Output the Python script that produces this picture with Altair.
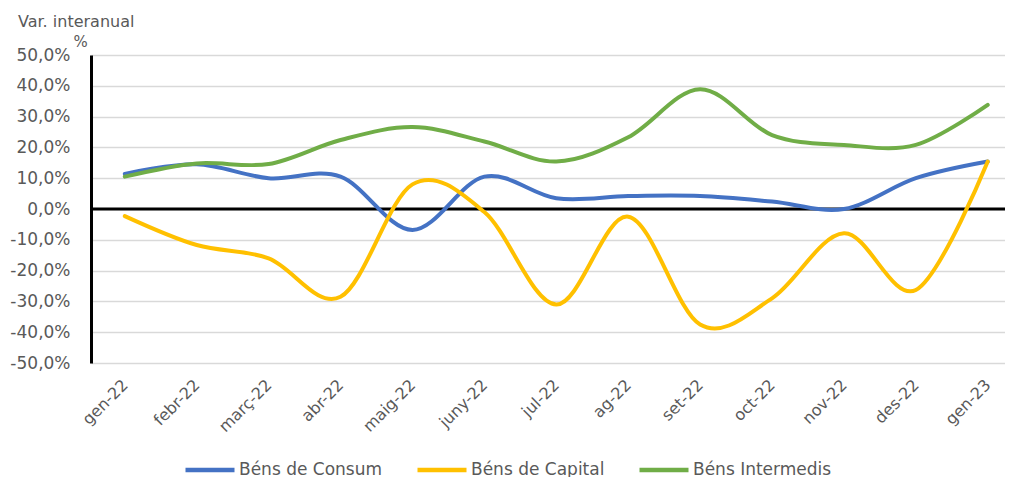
import altair as alt
import pandas as pd

months = ["gen-22", "febr-22", "març-22", "abr-22", "maig-22", "juny-22", "jul-22",
          "ag-22", "set-22", "oct-22", "nov-22", "des-22", "gen-23"]
consum = [11.4, 14.5, 10.0, 10.5, -6.8, 10.5, 3.5, 4.2, 4.2, 2.4, 0.0, 10.0, 15.4]
capital = [-2.3, -11.7, -16.0, -28.5, 8.0, -1.0, -31.0, -2.5, -37.5, -29.0, -7.9, -26.3, 15.4]
intermedis = [10.5, 14.8, 14.6, 22.4, 26.6, 21.9, 15.4, 23.3, 38.9, 24.0, 20.8, 20.8, 33.8]
series_names = ["Béns de Consum", "Béns de Capital", "Béns Intermedis"]
series_colors = ["#4472C4", "#FFC000", "#70AD47"]

rows = []
for name, vals in zip(series_names, [consum, capital, intermedis]):
    for i, (m, v) in enumerate(zip(months, vals)):
        rows.append({"idx": i, "mes": m, "serie": name, "valor": v})
df = pd.DataFrame(rows)

FONT = "DejaVu Sans"
GRAY = "#595959"
label_array = "[" + ",".join('"' + m + '"' for m in months) + "]"

x_enc = alt.X(
    "idx:Q",
    scale=alt.Scale(domain=[-0.47, 12.24], nice=False, zero=False),
    axis=alt.Axis(
        values=list(range(len(months))),
        labelExpr=label_array + "[datum.value]",
        labelAngle=-45, labelAlign="right", labelBaseline="middle",
        labelFontSize=16, labelColor=GRAY, labelFont=FONT, labelPadding=19,
        domain=False, ticks=False, grid=False, title=None,
    ),
)
y_scale = alt.Scale(domain=[-50, 50], nice=False)
y_axis = alt.Axis(
    values=list(range(-50, 51, 10)),
    labelExpr="(datum.value < 0 ? '-' : '') + replace(format(abs(datum.value), '.1f'), '.', ',') + '%'",
    labelFontSize=17, labelColor=GRAY, labelFont=FONT, labelPadding=21,
    domain=True, domainColor="black", domainWidth=3,
    ticks=False, grid=True, gridColor="#d9d9d9", gridWidth=1.3,
    title="%", titleAngle=0, titleX=-11, titleY=-14, titleAlign="center",
    titleBaseline="middle", titleFontSize=15, titleFontWeight="normal",
    titleColor=GRAY, titleFont=FONT,
)

lines = alt.Chart(df).mark_line(interpolate="cardinal", strokeWidth=4, strokeCap="round").encode(
    x=x_enc,
    y=alt.Y("valor:Q", scale=y_scale, axis=y_axis),
    color=alt.Color(
        "serie:N",
        scale=alt.Scale(domain=series_names, range=series_colors),
        legend=alt.Legend(
            title=None, orient="none", legendX=92, legendY=388,
            direction="horizontal", symbolType="stroke", symbolSize=2401,
            symbolStrokeWidth=4.5, labelFontSize=17, labelColor=GRAY,
            labelFont=FONT, labelOffset=2, columnPadding=25,
        ),
    ),
    detail="serie:N",
)

zero = alt.Chart(pd.DataFrame({"valor": [0]})).mark_rule(color="black", strokeWidth=3).encode(
    y=alt.Y("valor:Q", scale=y_scale, axis=y_axis)
)

chart = alt.layer(zero, lines).properties(
    width=914, height=308,
    title=alt.TitleParams(
        "Var. interanual", anchor="start", frame="group", dx=-73, dy=0,
        fontSize=16, fontWeight="normal", color=GRAY, font=FONT, offset=4,
    ),
    autosize=alt.AutoSizeParams(type="none"),
    padding={"left": 83, "top": 47, "right": 0, "bottom": 121},
).configure_view(stroke=None)

chart.save("out.html", embed_options={"renderer": "svg", "actions": False})
